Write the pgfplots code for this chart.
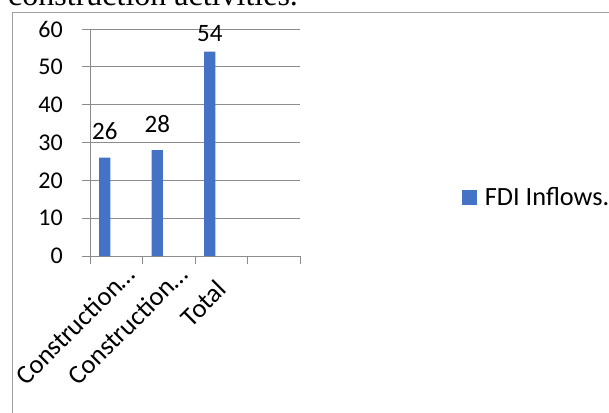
\documentclass[border=0pt]{standalone}
\usepackage{pgfplots}
\pgfplotsset{compat=1.18}
\usepackage{pgfplotstable}
\usepackage{fontspec}
\setmainfont{Carlito}
\newfontfamily\tnr{Liberation Serif}
\definecolor{fdiblue}{HTML}{4472C4}
\definecolor{gridgray}{HTML}{8C8C8C}
\definecolor{framegray}{HTML}{A0A0A0}
\pgfplotstableread{
x y shift
0.5 26 26
1.5 28 26
2.5 54 18
}\fdidata
\begin{document}
\begin{tikzpicture}
\useasboundingbox (0,0) rectangle (609pt,-412pt);
\clip (0,0) rectangle (609pt,-412pt);
\node[anchor=base west, inner sep=0pt, font=\tnr\fontsize{32}{38}\selectfont] at (8pt,-6pt) {construction activities.};
\draw[framegray, line width=1pt] (12.5pt,-500pt) -- (12.5pt,-13pt) -- (700pt,-13pt);
\begin{axis}[
  at={(90pt,-256pt)}, anchor=south west,
  scale only axis, width=210pt, height=227pt,
  xmin=0, xmax=4, ymin=0, ymax=60,
  ytick={0,10,...,60},
  xtick={0.5,1.5},
  xticklabels={Construction…,Construction…},
  extra x ticks={2.5},
  extra x tick labels={Total},
  extra x tick style={xticklabel style={xshift=-20.5pt, yshift=-1.2pt}, grid=none},
  minor xtick={0,1,2,3,4},
  xtick style={draw=none},
  minor tick length=8pt,
  major tick length=8pt,
  tick align=outside,
  minor x tick style={draw=gridgray, line width=0.8pt},
  ytick style={draw=gridgray, line width=0.8pt},
  axis x line*=bottom, axis y line*=left,
  axis line style={draw=gridgray, line width=0.8pt, -},
  ymajorgrids, grid style={draw=gridgray, line width=0.8pt},
  /pgf/number format/assume math mode=true,
  yticklabel style={anchor=east, inner sep=0pt, xshift=-19pt, font=\fontsize{24}{29}\selectfont},
  xticklabel style={xshift=14.3pt, yshift=-5.6pt, rotate=45, anchor=east, inner sep=0pt, font=\fontsize{26.5}{31}\selectfont},
  legend style={at={(1.770,0.2580)}, anchor=west, draw=none, fill=none,
    font=\fontsize{26.3}{31}\selectfont, inner sep=0pt, column sep=8pt,
    nodes={inner sep=0pt}},
  legend image code/.code={\fill[fdiblue] (0pt,-7.5pt) rectangle (15pt,7.5pt);},
  clip=false,
]
\addplot[ybar, fill=fdiblue, draw=none, bar width=11.4pt, bar shift=-11.5pt,
  visualization depends on={\thisrow{shift} \as \myshift},
  nodes near coords,
  nodes near coords style={anchor=center, inner sep=0pt, xshift=-11.5pt, yshift=\myshift pt, font=\fontsize{25}{30}\selectfont, text=black},
] table[x=x, y=y] {\fdidata};
\addlegendentry{FDI Inflows.}
\end{axis}
\end{tikzpicture}
\end{document}
